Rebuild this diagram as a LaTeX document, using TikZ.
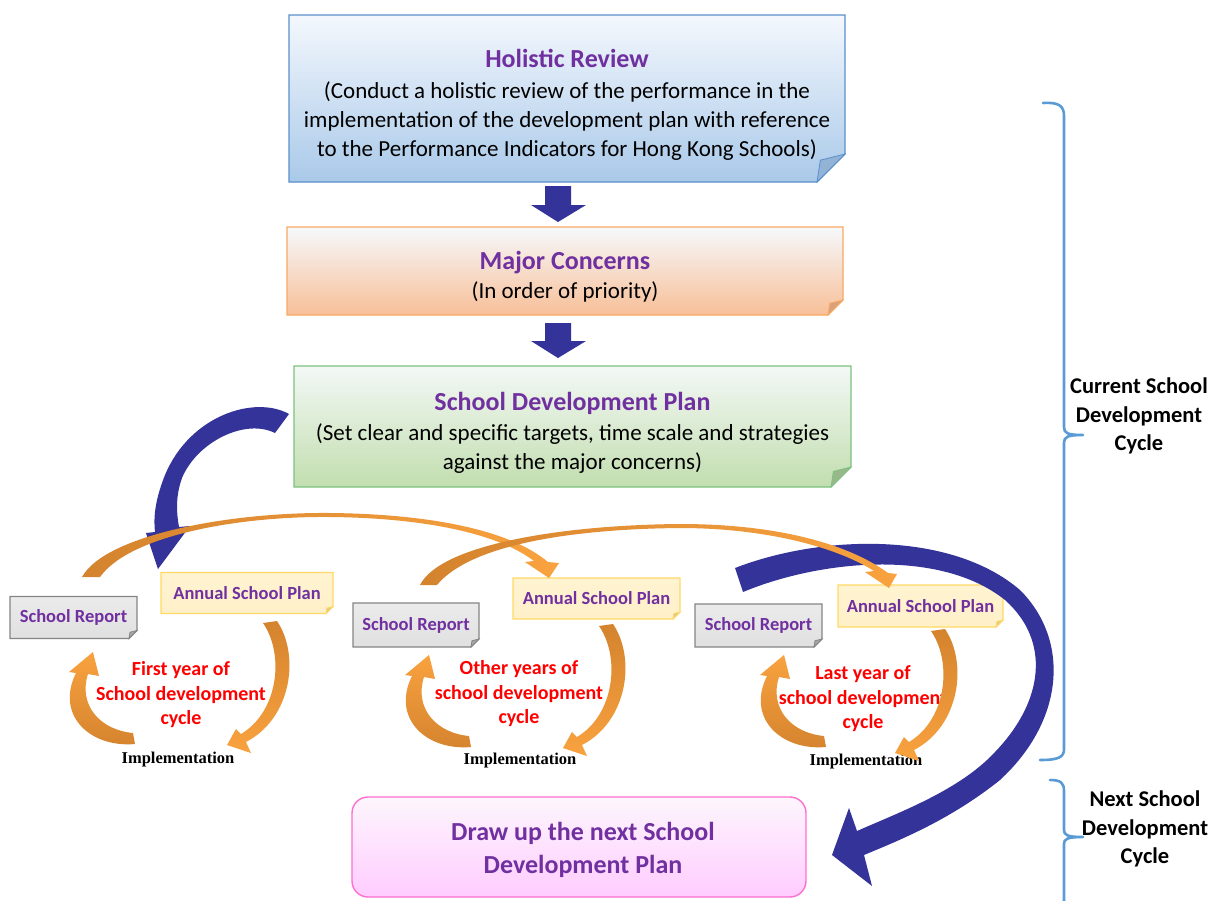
\documentclass[tikz,border=0pt]{standalone}
\usepackage{fontspec}
\setmainfont{Carlito}
\newfontfamily\serifbold{Liberation Serif}
\usetikzlibrary{calc}

\definecolor{navyarrow}{HTML}{333399}
\definecolor{titlepurple}{HTML}{7030A0}
\definecolor{orgdark}{HTML}{D4832E}
\definecolor{orglight}{HTML}{F9A23F}
\definecolor{bracecol}{HTML}{5B9BD5}
% box colours
\definecolor{hrtop}{HTML}{F4F8FD}
\definecolor{hrbot}{HTML}{A9C9E9}
\definecolor{hrline}{HTML}{5B8FCC}
\definecolor{hrflap}{HTML}{92B2D6}
\definecolor{mctop}{HTML}{F6F9FC}
\definecolor{mcbot}{HTML}{F7BF98}
\definecolor{mcline}{HTML}{F9A862}
\definecolor{mcflap}{HTML}{D9A27C}
\definecolor{sdtop}{HTML}{F3F8F6}
\definecolor{sdbot}{HTML}{C2DEAF}
\definecolor{sdline}{HTML}{7CC27E}
\definecolor{sdflap}{HTML}{98B88C}
\definecolor{srtop}{HTML}{EBEBEB}
\definecolor{srbot}{HTML}{E0E0E0}
\definecolor{srline}{HTML}{858585}
\definecolor{srflap}{HTML}{A6A6A6}
\definecolor{aptop}{HTML}{FFF3D1}
\definecolor{apbot}{HTML}{FFF0C8}
\definecolor{apline}{HTML}{FFD966}
\definecolor{apflap}{HTML}{E0C98A}
\definecolor{dutop}{HTML}{FDF6FD}
\definecolor{dubot}{HTML}{FFCCFF}
\definecolor{duline}{HTML}{FF6FD0}

\pgfdeclarelayer{bg}
\pgfdeclarelayer{paper}
\pgfsetlayers{paper,bg,main}

% box with a folded bottom-right corner, drawn behind the node
% #1 node, #2 fold size, #3 top colour, #4 bottom colour, #5 border, #6 flap colour
\newcommand{\foldbox}[6]{%
  \begin{pgfonlayer}{bg}
    \shadedraw[top color=#3,bottom color=#4,draw=#5,line width=1.2pt]
      (#1.north west) -- (#1.north east) -- ([yshift=#2]#1.south east)
      -- ([xshift=-#2]#1.south east) -- (#1.south west) -- cycle;
    \filldraw[fill=#6,draw=#5,line width=0.8pt]
      ([yshift=#2]#1.south east) -- ([xshift=-#2]#1.south east)
      -- ([xshift=-0.88*#2,yshift=0.78*#2]#1.south east) -- cycle;
  \end{pgfonlayer}}

% thick block arrow pointing down between two coordinates
\newcommand{\blockdown}[2]{%
  \fill[navyarrow] ($(#1)+(-13,0)$) -- ($(#1)+(13,0)$) -- ($(#2)+(13,-17)$)
    -- ($(#2)+(28,-17)$) -- (#2) -- ($(#2)+(-27,-17)$) -- ($(#2)+(-13,-17)$) -- cycle;}

% the pair of small orange arrows of one yearly cycle
\newcommand{\rightarc}{%
  \shade[top color=orgdark,bottom color=orglight]
    (263,623) -- (277,621) .. controls (300,655) and (292,718) .. (246,742)
    -- (251,753) -- (227,745) -- (236,729) -- (241,734)
    .. controls (278,712) and (285,655) .. (263,623) -- cycle;}
\newcommand{\leftarc}{%
  \shade[top color=orglight,bottom color=orgdark]
    (133,733) -- (135,744) .. controls (90,748) and (55,715) .. (76,673)
    -- (69,672) -- (93,652) -- (99,676) -- (88,674)
    .. controls (78,705) and (100,730) .. (133,733) -- cycle;}

\begin{document}
\begin{tikzpicture}[x=1pt,y=-1pt,
  boxnode/.style={inner sep=0pt,outer sep=0pt},
  titletext/.style={align=center,font=\fontsize{23}{29}\selectfont},
  smalllabel/.style={font=\bfseries\fontsize{18.5}{22}\selectfont,text=titlepurple},
  yeartext/.style={align=center,font=\bfseries\fontsize{20}{24.5}\selectfont,text=red},
  impltext/.style={font=\serifbold\bfseries\fontsize{16.5}{19}\selectfont},
  cycletext/.style={align=center,font=\bfseries\fontsize{22.5}{28.5}\selectfont},
  brace/.style={draw=bracecol,line width=2.6pt,line cap=round,line join=round}]
\useasboundingbox (0,0) rectangle (1213,900);
\begin{pgfonlayer}{paper}
  \fill[white] (0,0) rectangle (1213,900);
\end{pgfonlayer}

% ---------- main boxes ----------
\node[boxnode,minimum width=556pt,minimum height=167pt] (hr) at (567,98.5) {};
\node[titletext] (hrt) at (567,105)
  {{\bfseries\fontsize{26}{31}\selectfont\color{titlepurple}Holistic Review}\\[2pt]
   (Conduct a holistic review of the performance in the\\
   implementation of the development plan with reference\\
   to the Performance Indicators for Hong Kong Schools)};
\foldbox{hr}{28pt}{hrtop}{hrbot}{hrline}{hrflap}

\node[boxnode,minimum width=556pt,minimum height=88pt] (mc) at (565,271) {};
\node[titletext] (mct) at (565,277)
  {{\bfseries\fontsize{26}{31}\selectfont\color{titlepurple}Major Concerns}\\
   (In order of priority)};
\foldbox{mc}{15pt}{mctop}{mcbot}{mcline}{mcflap}

\node[boxnode,minimum width=557pt,minimum height=121pt] (sdp) at (572.5,426.5) {};
\node[titletext] (sdpt) at (572.5,433)
  {{\bfseries\fontsize{26}{31}\selectfont\color{titlepurple}School Development Plan}\\[1pt]
   (Set clear and specific targets, time scale and strategies\\
   against the major concerns)};
\foldbox{sdp}{20pt}{sdtop}{sdbot}{sdline}{sdflap}

% ---------- straight arrows between the main boxes ----------
\path (558,0 |- hr.south) ++(0,4) coordinate (d1a);
\path (558,0 |- mc.north) ++(0,-5) coordinate (d1b);
\path (558,0 |- mc.south) ++(0,8) coordinate (d2a);
\path (558,0 |- sdp.north) ++(0,-8) coordinate (d2b);
\blockdown{d1a}{d1b}
\blockdown{d2a}{d2b}

% ---------- yearly plan / report boxes ----------
\node[boxnode,minimum width=127pt,minimum height=42pt,smalllabel] (sr1) at (73.5,617.5) {School Report};
\node[boxnode,minimum width=172pt,minimum height=41pt,smalllabel] (asp1) at (247,593) {Annual School Plan};
\node[boxnode,minimum width=126pt,minimum height=44pt,smalllabel] (sr2) at (416,625) {School Report};
\node[boxnode,minimum width=167pt,minimum height=41pt,smalllabel] (asp2) at (596.5,598.5) {Annual School Plan};
\node[boxnode,minimum width=127pt,minimum height=43pt,smalllabel] (sr3) at (758.5,625.5) {School Report};
\node[boxnode,minimum width=165pt,minimum height=42pt,smalllabel] (asp3) at (920.5,606) {Annual School Plan};
\foreach \b in {sr1,sr2,sr3}{\foldbox{\b}{8pt}{srtop}{srbot}{srline}{srflap}}
\foreach \b in {asp1,asp2,asp3}{\foldbox{\b}{7pt}{aptop}{apbot}{apline}{apflap}}

% ---------- cycle labels ----------
\node[yeartext] (y1) at (181,695) {First year of\\School development\\cycle};
\node[yeartext] (y2) at (519,694) {Other years of\\school development\\cycle};
\node[yeartext] (y3) at (863,699) {Last year of\\school development\\cycle};
\node[impltext] (im1) at (178,760) {Implementation};
\node[impltext] (im2) at (520,761) {Implementation};
\node[impltext] (im3) at (866,762) {Implementation};

% ---------- next plan box ----------
\node[boxnode,minimum width=454pt,minimum height=100pt] (du) at (579,847) {};
\begin{pgfonlayer}{bg}
  \shadedraw[top color=dutop,bottom color=dubot,draw=duline,
    line width=1.4pt,rounded corners=16pt] (du.north west) rectangle (du.south east);
\end{pgfonlayer}
\node[align=center,font=\bfseries\fontsize{26}{33}\selectfont,text=titlepurple] (dut) at (583,850)
  {Draw up the next School\\Development Plan};

% ---------- large curved arrows ----------
\fill[navyarrow] (289,414) .. controls (255,395) and (190,415) .. (165,475)
  .. controls (153,505) and (154,522) .. (155,532) -- (146,533) -- (158,569)
  -- (190,526) -- (179,527) .. controls (176,510) and (176,495) .. (182,478)
  .. controls (197,442) and (245,418) .. (275,433) -- cycle;
\fill[navyarrow] (735,568) .. controls (820,535) and (950,530) .. (1020,590)
  .. controls (1070,640) and (1065,720) .. (1000,780)
  .. controls (950,820) and (900,840) .. (864,855) -- (872,886) -- (832,855)
  -- (849,808) -- (857,831) .. controls (900,812) and (960,790) .. (995,752)
  .. controls (1045,700) and (1050,640) .. (1005,600)
  .. controls (940,548) and (820,560) .. (743,592) -- cycle;

% ---------- long orange arrows from each report to the next plan ----------
\shade[left color=orgdark,right color=orglight]
  (82,577) .. controls (105,535) and (230,512) .. (330,513)
  .. controls (430,514) and (510,530) .. (548,562) -- (559,563) -- (549,578)
  -- (525,562) -- (534,561) .. controls (500,535) and (430,518) .. (330,517)
  .. controls (240,516) and (130,535) .. (100,577) -- cycle;
\shade[left color=orgdark,right color=orglight]
  (420,585) .. controls (440,545) and (560,525) .. (680,524)
  .. controls (780,524) and (850,545) .. (888,573) -- (897,574) -- (889,588)
  -- (865,572) -- (874,571) .. controls (840,549) and (770,528) .. (680,528)
  .. controls (570,529) and (470,545) .. (437,585) -- cycle;

% ---------- small orange arrows of the yearly cycles ----------
\rightarc \leftarc
\begin{scope}[shift={(336,3)}] \rightarc \leftarc \end{scope}
\begin{scope}[shift={(668,8)}] \rightarc \end{scope}
\begin{scope}[shift={(691,3)}] \leftarc \end{scope}

% ---------- braces on the right ----------
\draw[brace] (1043,103) .. controls (1059,102) and (1064,106) .. (1064,116)
  -- (1064,427) .. controls (1064,433) and (1067,435) .. (1083,435)
  .. controls (1067,435) and (1064,437) .. (1064,443)
  -- (1064,749) .. controls (1064,757) and (1059,760) .. (1040,760);
\draw[brace] (1050,780) .. controls (1061,780) and (1064,783) .. (1064,791)
  -- (1064,830) .. controls (1064,835) and (1067,837) .. (1083,837)
  .. controls (1067,837) and (1064,839) .. (1064,844) -- (1064,905);
\node[cycletext] (cur) at (1139,416) {Current School\\Development\\Cycle};
\node[cycletext] (nxt) at (1145,829) {Next School\\Development\\Cycle};
\end{tikzpicture}
\end{document}
